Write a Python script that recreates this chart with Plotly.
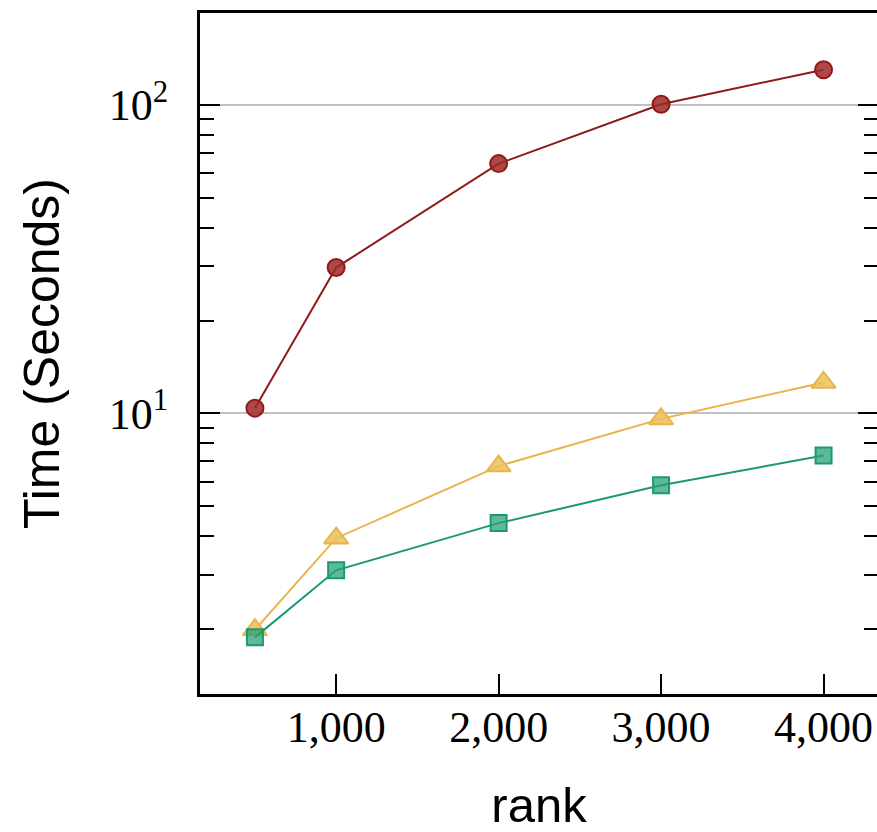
import plotly.graph_objects as go

rank = [500, 1000, 2000, 3000, 4000]
time_red = [10.4, 29.7, 64.5, 100.5, 130.0]
time_yellow = [1.99, 3.94, 6.75, 9.6, 12.6]
time_green = [1.88, 3.10, 4.41, 5.85, 7.3]

x_tickvals = [1000, 2000, 3000, 4000]
x_ticktext = ["1,000", "2,000", "3,000", "4,000"]
y_tickvals = [10, 100]
y_ticktext = ["10<sup>1</sup>", "10<sup>2</sup>"]

series = [
    (time_red, "circle", 17, "#8f1a1a", "rgba(160,40,40,0.85)"),
    (time_yellow, "triangle-up", 21, "#e9b44c", "rgba(236,190,90,0.85)"),
    (time_green, "square", 16, "#1b9a6e", "rgba(40,160,120,0.75)"),
]

fig = go.Figure()
for vals, sym, sz, lc, fc in series:
    fig.add_trace(go.Scatter(
        x=rank, y=vals, mode="lines+markers",
        line=dict(color=lc, width=2),
        marker=dict(symbol=sym, size=sz, color=fc, line=dict(color=lc, width=2)),
        showlegend=False,
    ))

W, H = 884, 832
fig.update_layout(
    width=W, height=H,
    margin=dict(l=200, r=W - 881, t=13, b=H - 694),
    plot_bgcolor="white", paper_bgcolor="white",
    showlegend=False,
)
fig.update_xaxes(
    range=[162, 4335],
    tickvals=x_tickvals, ticktext=x_ticktext,
    ticks="inside", ticklen=20, tickwidth=2, tickcolor="black",
    showline=True, linewidth=3, linecolor="black", mirror=True,
    showgrid=False, zeroline=False,
    tickfont=dict(family="Liberation Serif", size=44, color="black"),
    ticklabelstandoff=-8,
    title=dict(text="rank", font=dict(family="Liberation Sans", size=49, color="black"), standoff=40),
)
fig.update_yaxes(
    type="log", range=[0.0906, 2.2977],
    tickvals=y_tickvals, ticktext=y_ticktext,
    ticks="inside", ticklen=20, tickwidth=2, tickcolor="black",
    minor=dict(ticks="inside", ticklen=14, tickwidth=2, tickcolor="black", dtick="D1", showgrid=False),
    showline=True, linewidth=3, linecolor="black", mirror="ticks",
    showgrid=True, gridcolor="#c0c0c0", gridwidth=2,
    zeroline=False,
    tickfont=dict(family="Liberation Serif", size=44, color="black"),
    ticklabelstandoff=20,
    title=dict(text="Time (Seconds)", font=dict(family="Liberation Sans", size=50, color="black"), standoff=34),
)

fig.write_html("out.html", config={"displayModeBar": False},
               post_script="document.body.style.margin='0';document.body.style.overflow='hidden';")
